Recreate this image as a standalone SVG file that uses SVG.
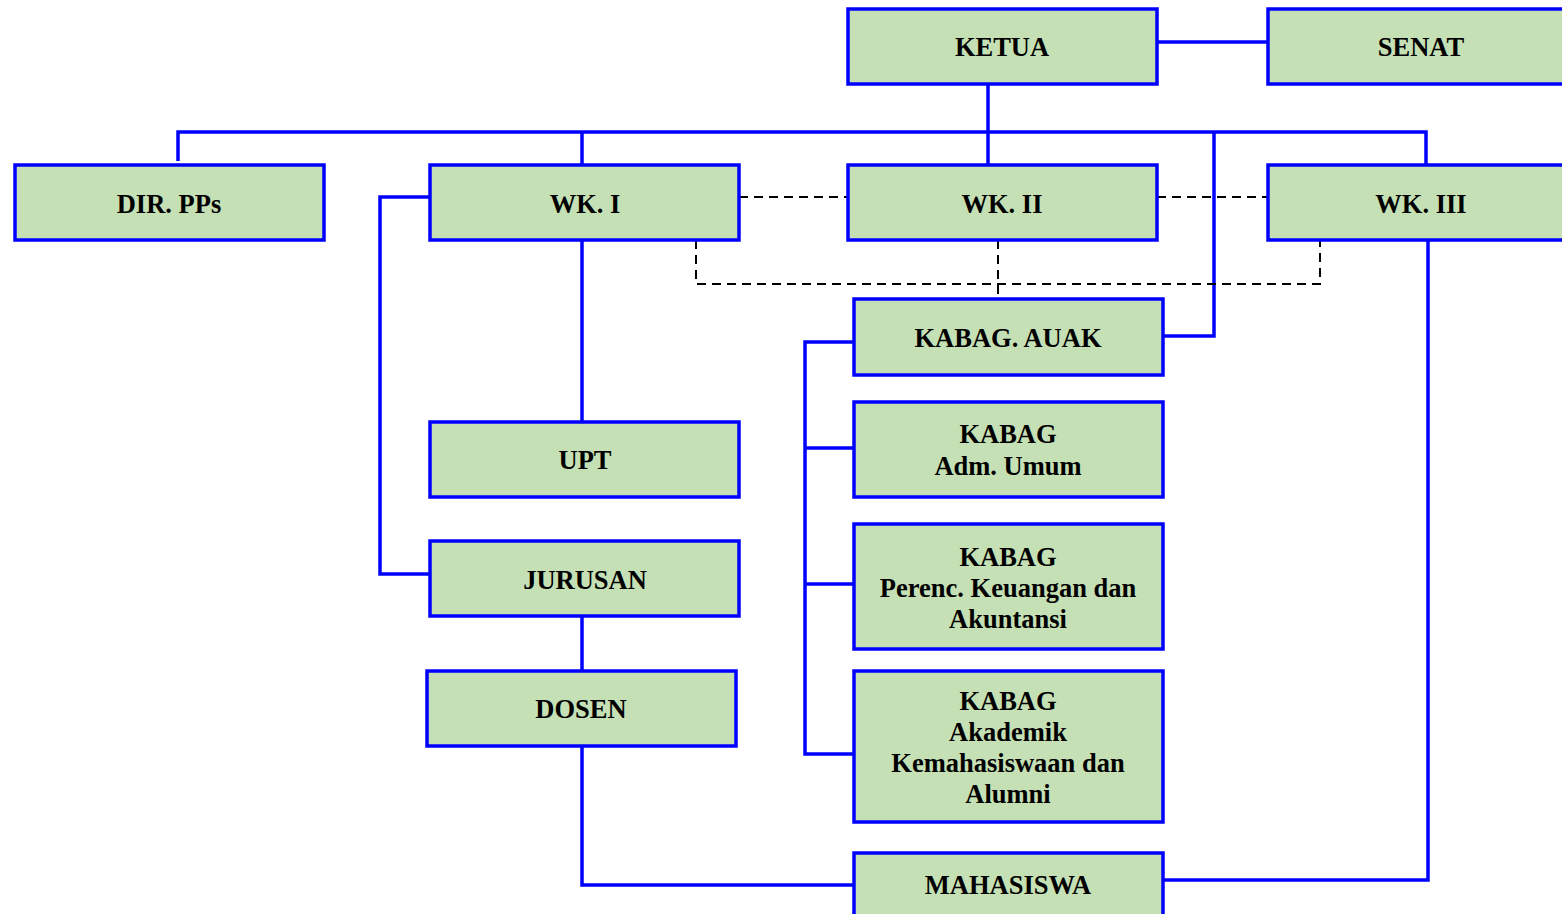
<svg xmlns="http://www.w3.org/2000/svg" width="1562" height="914" viewBox="0 0 1562 914">
<style>
.b{fill:#c5e0b4;stroke:#0000ff;stroke-width:3.5}
.t{font-family:"Liberation Serif","Times New Roman",serif;font-weight:bold;font-size:26.5px;fill:#000;text-anchor:middle}
.c{fill:none;stroke:#0000ff;stroke-width:3.5}
.d{fill:none;stroke:#000;stroke-width:2;stroke-dasharray:9,6}
</style>
<rect width="1562" height="914" fill="#fff"/>
<g id="connectors">
<path class="c" d="M1157 42H1268"/>
<path class="c" d="M988 84V165"/>
<path class="c" d="M178 161V132H1426V165"/>
<path class="c" d="M582 132V165"/>
<path class="c" d="M1214 132V336H1163"/>
<path class="c" d="M430 197H380V574H430"/>
<path class="c" d="M582 240V422"/>
<path class="c" d="M582 616V671"/>
<path class="c" d="M582 746V885H854"/>
<path class="c" d="M1428 240V880H1163"/>
<path class="c" d="M854 342H805V754H854M805 448H854M805 584H854"/>
<path class="d" d="M739 197H848M1157 197H1268"/>
<path class="d" d="M696 240V284H1320V240M998 240V299"/>
</g>
<g id="ketua"><rect class="b" x="848" y="9" width="309" height="75"/><text class="t" x="1002" y="56">KETUA</text></g>
<g id="senat"><rect class="b" x="1268" y="9" width="300" height="75"/><text class="t" x="1421" y="56">SENAT</text></g>
<g id="dirpps"><rect class="b" x="15" y="165" width="309" height="75"/><text class="t" x="169" y="213">DIR. PPs</text></g>
<g id="wk1"><rect class="b" x="430" y="165" width="309" height="75"/><text class="t" x="585" y="213">WK. I</text></g>
<g id="wk2"><rect class="b" x="848" y="165" width="309" height="75"/><text class="t" x="1002" y="213">WK. II</text></g>
<g id="wk3"><rect class="b" x="1268" y="165" width="300" height="75"/><text class="t" x="1421" y="213">WK. III</text></g>
<g id="auak"><rect class="b" x="854" y="299" width="309" height="76"/><text class="t" x="1008" y="347">KABAG. AUAK</text></g>
<g id="admumum"><rect class="b" x="854" y="402" width="309" height="95"/><text class="t" x="1008" y="443">KABAG</text><text class="t" x="1008" y="475">Adm. Umum</text></g>
<g id="perenc"><rect class="b" x="854" y="524" width="309" height="125"/><text class="t" x="1008" y="566">KABAG</text><text class="t" x="1008" y="597">Perenc. Keuangan dan</text><text class="t" x="1008" y="628">Akuntansi</text></g>
<g id="akademik"><rect class="b" x="854" y="671" width="309" height="151"/><text class="t" x="1008" y="710">KABAG</text><text class="t" x="1008" y="741">Akademik</text><text class="t" x="1008" y="772">Kemahasiswaan dan</text><text class="t" x="1008" y="803">Alumni</text></g>
<g id="upt"><rect class="b" x="430" y="422" width="309" height="75"/><text class="t" x="585" y="469">UPT</text></g>
<g id="jurusan"><rect class="b" x="430" y="541" width="309" height="75"/><text class="t" x="585" y="589">JURUSAN</text></g>
<g id="dosen"><rect class="b" x="427" y="671" width="309" height="75"/><text class="t" x="581" y="718">DOSEN</text></g>
<g id="mahasiswa"><rect class="b" x="854" y="853" width="309" height="70"/><text class="t" x="1008" y="894">MAHASISWA</text></g>
</svg>
